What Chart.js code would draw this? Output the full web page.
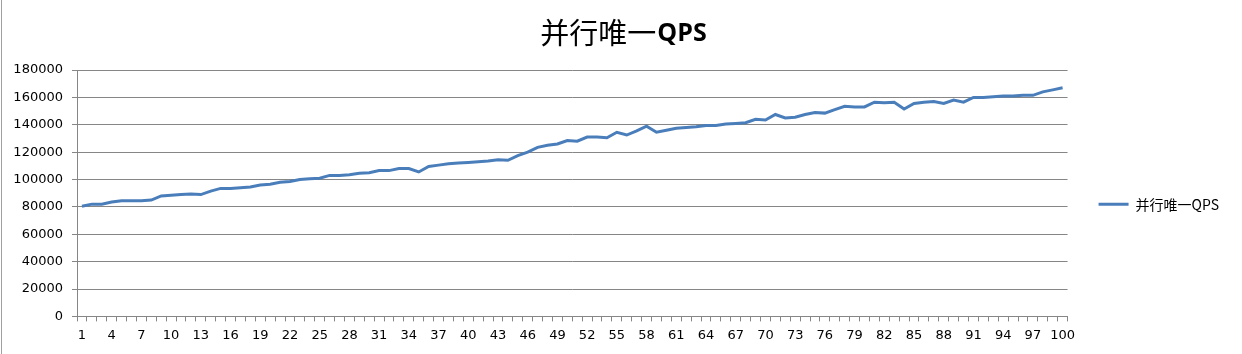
<!DOCTYPE html>
<html><head><meta charset="utf-8">
<script src="https://cdn.jsdelivr.net/npm/chart.js@4.4.1/dist/chart.umd.min.js"></script>
<style>html,body{margin:0;padding:0;background:#fff;overflow:hidden}#wrap{width:1242px;height:354px;position:relative}</style>
</head><body><div id="wrap"><canvas id="c" width="1242" height="354"></canvas></div>
<script>
const titleMain = '并行唯一';
const titleSuffix = 'QPS';
const seriesName = '并行唯一QPS';
const categories = ['1','2','3','4','5','6','7','8','9','10','11','12','13','14','15','16','17','18','19','20',
'21','22','23','24','25','26','27','28','29','30','31','32','33','34','35','36','37','38','39','40',
'41','42','43','44','45','46','47','48','49','50','51','52','53','54','55','56','57','58','59','60',
'61','62','63','64','65','66','67','68','69','70','71','72','73','74','75','76','77','78','79','80',
'81','82','83','84','85','86','87','88','89','90','91','92','93','94','95','96','97','98','99','100'];
const qps = [80500,82000,82000,83500,84500,84500,84500,85000,88000,88500,
89000,89500,89000,91500,93500,93500,94000,94500,96000,96500,
98000,98500,100000,100500,101000,103000,103000,103500,104500,105000,
106500,106500,108000,108000,105500,109500,110500,111500,112000,112500,
113000,113500,114500,114000,117500,120000,123500,125000,126000,128500,
128000,131000,131000,130500,134500,132500,135500,139000,134500,136000,
137500,138000,138500,139500,139500,140500,141000,141500,144000,143500,
147500,145000,145500,147500,149000,148500,151000,153500,153000,153000,
156500,156000,156500,151500,155500,156500,157000,155500,158000,156500,
160000,160000,160500,161000,161000,161500,161500,164000,165500,167000];
const yMin = 0, yMax = 180000, yStep = 20000;

const gridColor = '#868686';
const tickFont = {family: '"DejaVu Sans"', size: 13};

const titlePlugin = {
  id: 'mixedTitle',
  afterDraw(chart) {
    const c = chart.ctx;
    c.save();
    c.textBaseline = 'middle';
    c.textAlign = 'left';
    c.fillStyle = '#000';
    const f1 = 'normal 29px "Noto Sans CJK SC"';
    const f2 = 'bold 25px "Open Sans"';
    c.font = f1; const w1 = c.measureText(titleMain).width;
    c.font = f2; const w2 = c.measureText(titleSuffix).width;
    const x0 = 623 - (w1 + w2) / 2;
    c.font = f1; c.fillText(titleMain, x0, 33);
    c.font = f2; c.fillText(titleSuffix, x0 + w1 + 1, 34);
    c.strokeStyle = '#a0a0a0'; c.lineWidth = 1;
    c.beginPath(); c.moveTo(1.5, 0); c.lineTo(1.5, 354); c.stroke();
    c.restore();
  }
};

new Chart(document.getElementById('c'), {
  type: 'line',
  data: {
    labels: categories,
    datasets: [{
      label: seriesName, data: qps,
      borderColor: '#4a7ebb', backgroundColor: '#4a7ebb',
      borderWidth: 3, pointRadius: 0, pointHoverRadius: 0, tension: 0, fill: false
    }]
  },
  options: {
    responsive: false, animation: false, devicePixelRatio: 1,
    layout: {padding: {top: 70, left: 0, right: 13, bottom: 5}},
    plugins: {
      title: {display: false},
      tooltip: {enabled: false},
      legend: {
        position: 'right', align: 'center', fullSize: false,
        title: {display: true, text: '', padding: {top: 0, bottom: 21}, font: {size: 1}},
        labels: {
          usePointStyle: true, pointStyle: 'line', pointStyleWidth: 30, padding: 31,
          color: '#000', font: {family: '"Noto Sans CJK SC"', size: 14}
        }
      }
    },
    scales: {
      x: {
        offset: true,
        grid: {offset: true, drawOnChartArea: false, tickLength: 5, color: gridColor},
        border: {color: gridColor},
        ticks: {
          autoSkip: false, maxRotation: 0, minRotation: 0, padding: 6, color: '#000', font: tickFont,
          callback: (v, i) => (i % 3 === 0 ? categories[i] : '')
        }
      },
      y: {
        min: yMin, max: yMax,
        grid: {color: gridColor, tickLength: 5},
        border: {color: gridColor},
        ticks: {stepSize: yStep, padding: 9, color: '#000', font: tickFont, callback: v => String(v)},
        afterFit: s => { s.width = 77; }
      }
    }
  },
  plugins: [titlePlugin]
});
</script>
</body></html>
